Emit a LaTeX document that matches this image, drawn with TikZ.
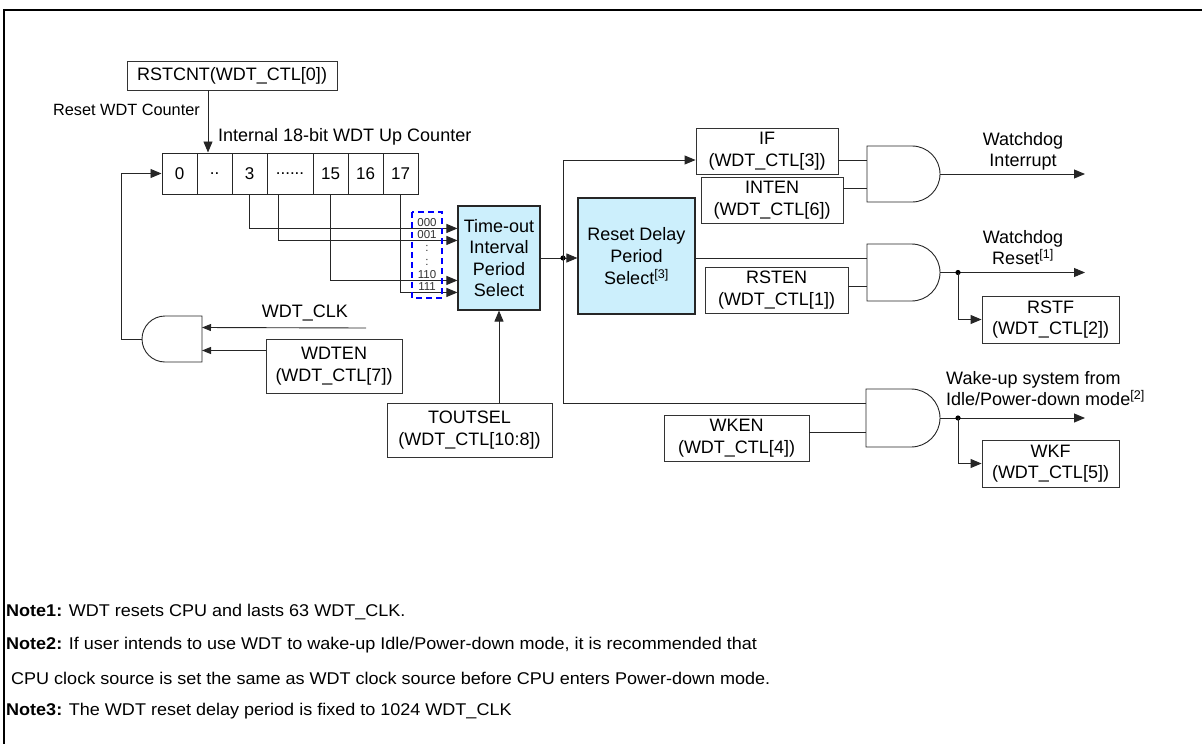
\documentclass[tikz,border=0pt]{standalone}
\usepackage{fontspec}
\setmainfont{Liberation Sans}
\newfontfamily\notefont[FakeStretch=1.06]{Liberation Sans}
\usetikzlibrary{arrows.meta,calc}
\newcommand{\gateR}[5]{%
  \pgfmathsetmacro{\gr}{#5/2}%
  \pgfmathsetmacro{\ga}{#2+#4-\gr}%
  \pgfmathsetmacro{\gk}{0.5523*\gr}%
  \draw[gate] (#2,#3) -- (\ga,#3) .. controls (\ga+\gk,#3) and (#2+#4,#3+\gr-\gk) .. (#2+#4,#3+\gr) .. controls (#2+#4,#3+\gr+\gk) and (\ga+\gk,#3+#5) .. (\ga,#3+#5) -- (#2,#3+#5) -- cycle;
  \coordinate (#1-out) at (#2+#4,#3+\gr);
  \coordinate (#1-in1) at (#2,#3+#5/4);
  \coordinate (#1-in2) at (#2,#3+3*#5/4);
}
\newcommand{\gateL}[5]{%
  \pgfmathsetmacro{\gr}{#5/2}%
  \pgfmathsetmacro{\ga}{#2+\gr}%
  \pgfmathsetmacro{\gk}{0.5523*\gr}%
  \draw[gate] (#2+#4,#3) -- (\ga,#3) .. controls (\ga-\gk,#3) and (#2,#3+\gr-\gk) .. (#2,#3+\gr) .. controls (#2,#3+\gr+\gk) and (\ga-\gk,#3+#5) .. (\ga,#3+#5) -- (#2+#4,#3+#5) -- cycle;
  \coordinate (#1-out) at (#2,#3+\gr);
  \coordinate (#1-in1) at (#2+#4,#3+#5/4);
  \coordinate (#1-in2) at (#2+#4,#3+3*#5/4);
}
\begin{document}
\begin{tikzpicture}[x=1pt,y=-1pt,
  box/.style={draw=black!80, line width=0.9pt, inner sep=0pt, align=center,
    font=\fontsize{18}{21.5}\selectfont},
  cell/.style={draw=black!85, line width=1pt, inner sep=0pt, minimum height=41pt,
    font=\fontsize{17}{20}\selectfont},
  cyanbox/.style={box, fill=cyan!20, draw=black!85, line width=1.1pt},
  gate/.style={draw=black!85, line width=0.9pt},
  wire/.style={draw=black!85, line width=0.9pt},
  arr/.style={wire, -{Triangle[length=11pt,width=9pt]}},
  sarr/.style={wire, -{Triangle[length=9pt,width=7pt]}},
  lbl/.style={inner sep=0pt, align=center, font=\fontsize{18}{21}\selectfont},
  mux/.style={inner sep=0pt, font=\fontsize{11.5}{12}\selectfont, text=black!80},
  note/.style={inner sep=0pt, anchor=west, font=\notefont\fontsize{17}{19}\selectfont},
  dot/.style={fill=black, draw=none}]
\useasboundingbox (0,0) rectangle (1202,744);
% frame
\draw[line width=2.2pt] (4.2,744) -- (4.2,10) -- (1202,10);

% counter
\node[box, minimum width=210pt, minimum height=29pt] (rst) at (232,75.5) {RSTCNT(WDT\_CTL[0])};
\node[cell, minimum width=35pt] (c0) at (179.5,173.5) {0};
\node[cell, minimum width=35pt] (c1) at (214.5,173.5) {..};
\node[cell, minimum width=35pt] (c2) at (249.5,173.5) {3};
\node[cell, minimum width=46pt] (c3) at (290,173.5) {......};
\node[cell, minimum width=35pt] (c4) at (330.5,173.5) {15};
\node[cell, minimum width=35pt] (c5) at (365.5,173.5) {16};
\node[cell, minimum width=35pt] (c6) at (400.5,173.5) {17};
\node[lbl, anchor=east, font=\fontsize{16.3}{18}\selectfont] (rwc) at (200,110) {Reset WDT Counter};
\node[lbl, anchor=west] (icnt) at (218,137) {Internal 18-bit WDT Up Counter};
\coordinate (rsx) at (208,0);
\draw[arr] (rst.south -| rsx) -- (c1.north -| rsx);

% time-out and reset delay
\node[cyanbox, minimum width=82pt, minimum height=104pt] (to) at (499,258) {Time-out\\Interval\\Period\\Select};
\node[cyanbox, minimum width=117pt, minimum height=116pt, font=\fontsize{18}{22}\selectfont] (rd) at (636.5,256) {Reset Delay\\Period\\Select\textsuperscript{[3]}};
\node[box, minimum width=165pt, minimum height=54pt] (tsel) at (469.5,430) {TOUTSEL\\(WDT\_CTL[10:8])};
\draw[arr] (tsel.north -| to.south) -- (to.south);

% mux wires
\draw[arr] (c2.south) |- ($(to.north west)+(0,23)$);
\draw[arr] ([xshift=-12pt]c3.south) |- ($(to.north west)+(0,35)$);
\draw[arr] (c4.south) |- ($(to.north west)+(0,75)$);
\draw[arr] (c6.south) |- ($(to.north west)+(0,87)$);
\node[mux] (m0) at (427,223) {000};
\node[mux] (m1) at (427,235) {001};
\node[mux] (m2) at (427,248) {:};
\node[mux] (m3) at (427,262) {:};
\node[mux] (m4) at (427,275) {110};
\node[mux] (m5) at (427,287) {111};
\draw[blue, line width=1.5pt, dash pattern=on 6pt off 4pt] (412,212) rectangle (442,298);

% left gate
\gateL{g0}{142}{316}{60}{46}
\node[box, minimum width=136pt, minimum height=54pt] (wdten) at (334,366) {WDTEN\\(WDT\_CTL[7])};
\coordinate (clk) at (366,328);
\node[lbl] (clkl) at (305,313) {WDT\_CLK};
\draw[sarr] (clk) -- (g0-in1);
\draw[sarr] (wdten.west |- g0-in2) -- (g0-in2);
\draw[arr] (g0-out) -- ++(-21,0) |- (c0.west);

% junction
\coordinate (j) at (563,258);
\draw[arr] (to.east) -- (to.east -| rd.west);
\fill[dot] (j) circle (2.6pt);

% right side boxes
\node[box, minimum width=142pt, minimum height=46pt] (if) at (767,151) {IF\\(WDT\_CTL[3])};
\node[box, minimum width=142pt, minimum height=46pt] (inten) at (772,200) {INTEN\\(WDT\_CTL[6])};
\node[box, minimum width=143pt, minimum height=46pt] (rsten) at (776.5,290) {RSTEN\\(WDT\_CTL[1])};
\node[box, minimum width=145pt, minimum height=46pt] (wken) at (736.5,438) {WKEN\\(WDT\_CTL[4])};
\node[box, minimum width=137pt, minimum height=47pt] (rstf) at (1050.5,319.5) {RSTF\\(WDT\_CTL[2])};
\node[box, minimum width=137pt, minimum height=47pt] (wkf) at (1050.5,463.5) {WKF\\(WDT\_CTL[5])};

\gateR{g1}{867}{146}{73}{56}
\gateR{g2}{867}{244}{73}{57}
\gateR{g3}{866}{389}{74}{58}

\draw[arr] (j) |- (if.west |- g1-in1);
\draw[wire] (j) |- (g3-in1);
\draw[wire] (if.east |- g1-in1) -- (g1-in1);
\draw[wire] (inten.east |- g1-in2) -- (g1-in2);
\draw[wire] (rd.east |- g2-in1) -- (g2-in1);
\draw[wire] (rsten.east |- g2-in2) -- (g2-in2);
\draw[wire] (wken.east |- g3-in2) -- (g3-in2);

\coordinate (endx) at (1085,0);
\draw[arr] (g1-out) -- (g1-out -| endx);
\draw[arr] (g2-out) -- (g2-out -| endx);
\draw[arr] (g3-out) -- (g3-out -| endx);
\coordinate (d2) at (958,0);
\fill[dot] (g2-out -| d2) circle (2.6pt);
\fill[dot] (g3-out -| d2) circle (2.6pt);
\draw[arr] (g2-out -| d2) |- (rstf.west);
\draw[arr] (g3-out -| d2) |- (wkf.west);

\node[lbl] (wi) at (1023,151) {Watchdog\\Interrupt};
\node[lbl] (wr) at (1023,248) {Watchdog\\Reset\textsuperscript{[1]}};
\node[lbl, anchor=west, align=left] (wk) at (946,388.5) {Wake-up system from\\Idle/Power-down mode\textsuperscript{[2]}};

% notes
\node[note] (n1) at (6,612) {\textbf{Note1:} WDT resets CPU and lasts 63 WDT\_CLK.};
\node[note] (n2) at (6,645) {\textbf{Note2:} If user intends to use WDT to wake-up Idle/Power-down mode, it is recommended that};
\node[note] (n2b) at (6,678) {\ CPU clock source is set the same as WDT clock source before CPU enters Power-down mode.};
\node[note] (n3) at (6,711) {\textbf{Note3:} The WDT reset delay period is fixed to 1024 WDT\_CLK};
\end{tikzpicture}
\end{document}
